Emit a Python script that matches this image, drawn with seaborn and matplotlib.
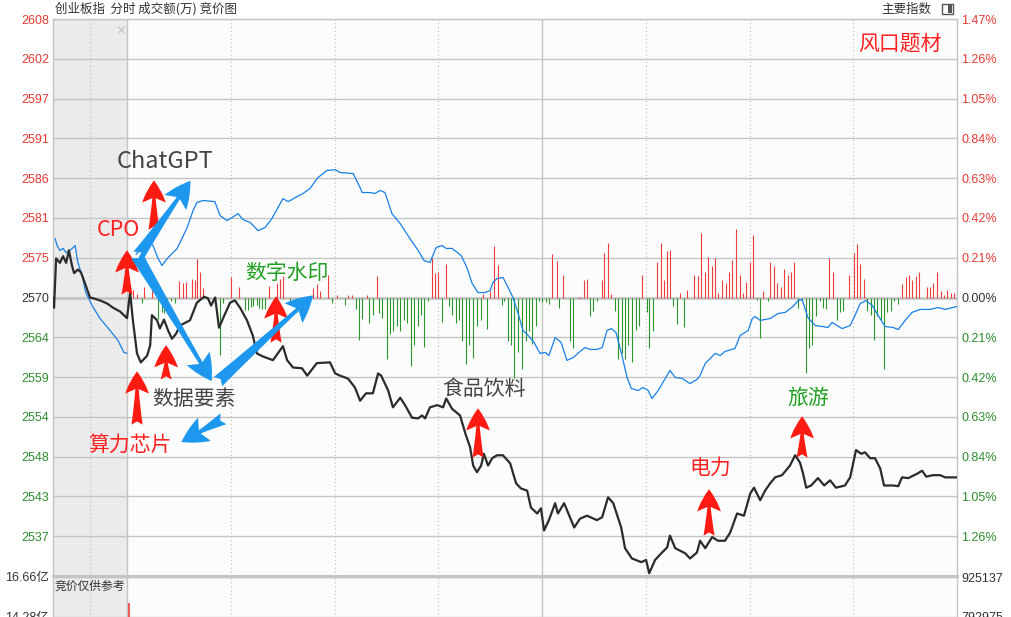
import numpy as np
import pandas as pd
import matplotlib
matplotlib.use('Agg')
import matplotlib.pyplot as plt
from matplotlib.patches import FancyArrowPatch, Rectangle
import seaborn as sns

BASE = 2570.0   # prev close, 0.00% line

# time axis: minutes after 9:30 (negative part = call auction), 120 = 11:30/13:00, 240 = 15:00
idx_t = [-21.4, -21.1, -20.5, -19.4, -18.5, -17.6, -16.8, -15.9, -15.3, -14.2, -13.3, -11.9, -10.7, -9.8,
         -7.8, -5.8, -4.0, -2.0, -0.9, 0.0, 0.9, 1.7, 2.9, 4.0, 5.8, 6.7, 7.2, 8.7, 9.5, 10.7, 11.9, 13.0,
         14.2, 15.3, 18.2, 20.2, 22.3, 23.4, 24.3, 25.5, 26.6, 27.8, 29.8, 31.2, 32.7, 34.7, 36.4, 37.6,
         39.3, 42.2, 45.1, 46.3, 48.0, 50.6, 52.1, 54.9, 58.7, 60.2, 61.6, 63.9, 65.9, 67.4, 69.1, 71.1,
         72.6, 73.5, 75.5, 76.9, 79.0, 80.4, 82.4, 84.2, 85.3, 86.2, 87.6, 89.7, 91.4, 92.3, 94.0, 96.3,
         97.8, 99.2, 100.1, 101.2, 102.4, 103.2, 104.4, 105.6, 107.0, 108.7, 110.8, 112.5, 113.9, 115.7,
         116.8, 118.6, 119.7, 120.6, 122.0, 123.8, 124.6, 126.4, 129.3, 131.0, 133.0, 135.9, 137.4, 139.1,
         140.6, 142.9, 144.0, 146.0, 148.7, 150.1, 151.0, 152.7, 154.7, 156.2, 157.0, 158.5, 161.4, 162.8,
         164.8, 165.7, 167.2, 169.2, 170.9, 172.9, 174.4, 176.4, 178.4, 180.2, 181.3, 183.1, 184.5, 186.0,
         187.4, 189.4, 191.7, 193.2, 194.6, 195.5, 196.4, 197.8, 199.8, 201.6, 203.3, 205.0, 207.6, 209.1,
         210.8, 212.3, 213.4, 214.9, 216.3, 217.8, 218.9, 221.5, 223.0, 224.1, 225.9, 228.5, 229.9, 231.1,
         233.1, 235.1, 236.6, 240.0]
idx_price = [2569.9, 2568.6, 2575.3, 2574.7, 2575.6, 2574.7, 2576.4, 2574.3, 2573.3, 2573.8, 2573.4, 2571.6,
             2570.0, 2569.9, 2569.6, 2569.2, 2568.6, 2568.1, 2567.6, 2567.2, 2570.7, 2566.9, 2562.4, 2561.2,
             2562.1, 2563.5, 2567.6, 2566.9, 2565.8, 2567.0, 2565.5, 2564.4, 2565.1, 2566.2, 2566.9, 2569.3,
             2570.1, 2569.9, 2568.9, 2570.0, 2565.9, 2567.2, 2569.3, 2569.6, 2568.6, 2566.9, 2564.8, 2562.4,
             2562.0, 2561.5, 2563.4, 2561.5, 2560.5, 2560.4, 2559.4, 2561.1, 2561.2, 2559.7, 2559.4, 2559.0,
             2557.8, 2556.0, 2557.0, 2557.0, 2559.7, 2559.4, 2557.4, 2555.1, 2556.4, 2555.4, 2553.7, 2553.6,
             2554.0, 2553.6, 2555.1, 2555.4, 2555.1, 2556.3, 2554.9, 2554.0, 2551.6, 2549.7, 2547.2, 2546.3,
             2547.2, 2548.8, 2547.2, 2548.2, 2548.6, 2548.6, 2547.5, 2544.8, 2544.1, 2543.8, 2541.5, 2540.7,
             2541.4, 2538.4, 2539.8, 2542.1, 2540.7, 2542.1, 2538.8, 2540.0, 2540.4, 2539.8, 2540.2, 2542.9,
             2542.1, 2538.8, 2536.0, 2534.6, 2534.1, 2534.4, 2532.6, 2534.4, 2535.4, 2536.1, 2537.7, 2536.0,
             2535.3, 2534.6, 2535.4, 2537.0, 2536.0, 2537.5, 2537.0, 2537.0, 2538.1, 2540.7, 2540.4, 2543.4,
             2544.2, 2542.5, 2543.8, 2544.8, 2545.6, 2545.9, 2547.2, 2548.6, 2547.6, 2546.1, 2544.2, 2544.5,
             2545.5, 2544.5, 2545.2, 2544.2, 2544.5, 2545.6, 2549.3, 2548.8, 2549.0, 2548.2, 2548.2, 2546.8,
             2544.5, 2544.5, 2544.4, 2545.6, 2545.5, 2546.1, 2546.5, 2545.7, 2545.9, 2545.9, 2545.6, 2545.6]

# blue line (leading index, % change)
lead_auc_t = [-20.8, -20.2, -19.4, -18.5, -17.6, -16.5, -15.0, -14.2, -13.0, -11.9, -10.1, -7.8, -4.9, -2.6, -0.9, 0.0]
lead_auc_pct = [0.311, 0.274, 0.248, 0.259, 0.237, 0.248, 0.274, 0.185, 0.116, 0.026, -0.042, -0.111, -0.174,
                -0.227, -0.290, -0.295]
lead_t = [2.6, 4.3, 6.1, 7.5, 9.0, 10.1, 11.9, 14.5, 17.4, 19.1, 20.2, 22.0, 25.4, 26.9, 28.9, 30.4, 32.1,
          33.5, 35.6, 37.9, 39.9, 41.9, 45.1, 46.6, 49.2, 50.9, 52.9, 55.2, 57.8, 60.2, 61.6, 65.4, 67.4,
          68.0, 70.3, 71.7, 73.2, 74.6, 76.6, 79.0, 81.8, 84.2, 85.9, 87.6, 89.4, 91.1, 92.3, 94.0, 96.6,
          98.3, 99.8, 101.5, 103.5, 105.0, 105.8, 107.0, 108.7, 110.2, 111.6, 113.1, 114.5, 116.0, 117.7,
          119.4, 120.9, 122.0, 123.8, 125.5, 127.2, 129.0, 130.7, 132.5, 133.9, 135.9, 137.4, 138.8, 140.0,
          141.4, 142.9, 144.6, 145.8, 147.8, 149.2, 150.7, 151.8, 153.6, 155.3, 157.0, 158.5, 160.5, 162.8,
          164.8, 165.7, 167.2, 170.1, 171.5, 172.9, 175.8, 177.3, 179.6, 180.8, 181.6, 183.1, 186.0, 188.3,
          190.3, 192.6, 194.1, 195.2, 196.9, 199.0, 201.0, 202.7, 203.9, 205.3, 206.8, 209.1, 210.5, 212.0,
          213.7, 215.5, 217.2, 219.2, 221.5, 223.0, 225.0, 227.0, 229.3, 232.2, 234.5, 236.6, 240.0]
lead_pct = [0.227, 0.259, 0.311, 0.274, 0.206, 0.169, 0.211, 0.259, 0.369, 0.459, 0.501, 0.512, 0.506, 0.433,
            0.406, 0.422, 0.443, 0.412, 0.396, 0.353, 0.369, 0.417, 0.522, 0.506, 0.533, 0.549, 0.575, 0.633,
            0.670, 0.675, 0.660, 0.654, 0.580, 0.554, 0.554, 0.549, 0.565, 0.554, 0.443, 0.390, 0.311, 0.248,
            0.195, 0.185, 0.264, 0.274, 0.259, 0.259, 0.222, 0.158, 0.074, 0.026, 0.026, 0.037, 0.079, 0.100,
            0.106, 0.053, 0.000, -0.084, -0.174, -0.200, -0.237, -0.295, -0.290, -0.306, -0.211, -0.237,
            -0.332, -0.317, -0.290, -0.264, -0.274, -0.274, -0.264, -0.174, -0.164, -0.185, -0.290, -0.422,
            -0.480, -0.491, -0.475, -0.491, -0.533, -0.491, -0.438, -0.385, -0.422, -0.427, -0.454, -0.433,
            -0.412, -0.348, -0.295, -0.306, -0.285, -0.269, -0.200, -0.174, -0.111, -0.100, -0.121, -0.111,
            -0.084, -0.079, -0.047, -0.016, -0.011, -0.106, -0.148, -0.153, -0.158, -0.132, -0.148, -0.164,
            -0.148, -0.095, -0.032, -0.016, -0.042, -0.095, -0.153, -0.158, -0.169, -0.121, -0.079, -0.063,
            -0.063, -0.053, -0.063, -0.047]

# red / green bars around the 0.00% line (in %)
red_t = [1.8, 3.0, 4.9, 7.1, 15.1, 16.1, 17.1, 18.7, 19.7, 20.2, 21.1, 22.1, 30.0, 32.5, 41.2, 43.4, 44.2,
         45.0, 53.9, 54.9, 55.8, 58.2, 60.7, 63.9, 65.1, 69.4, 72.3, 88.2, 89.1, 89.9, 92.3, 103.0, 105.0,
         106.1, 107.3, 122.9, 124.4, 126.1, 130.4, 131.0, 132.2, 133.0, 137.4, 137.9, 139.1, 140.0, 148.9,
         153.3, 154.4, 155.3, 156.2, 157.0, 159.9, 162.0, 164.0, 165.1, 166.0, 167.2, 168.0, 169.2, 170.0,
         170.9, 172.1, 173.2, 174.1, 175.0, 176.1, 177.3, 178.1, 179.0, 180.2, 181.0, 183.9, 186.0, 187.1,
         188.0, 189.1, 190.0, 191.2, 192.0, 192.9, 203.0, 204.2, 208.8, 210.3, 211.1, 212.0, 213.1, 224.1,
         225.3, 226.2, 227.0, 228.2, 229.0, 231.4, 232.2, 233.1, 234.3, 235.4, 236.3, 237.1, 238.3, 239.2,
         240.0]
red_v = [0.041, 0.020, 0.053, 0.041, 0.088, 0.075, 0.084, 0.097, 0.093, 0.202, 0.137, 0.049, 0.107, 0.058,
         0.062, 0.074, 0.100, 0.111, 0.049, 0.072, 0.032, 0.120, 0.011, 0.011, 0.011, 0.011, 0.111, 0.206,
         0.127, 0.137, 0.179, 0.021, 0.032, 0.274, 0.174, 0.227, 0.195, 0.121, 0.005, 0.005, 0.090, 0.100,
         0.090, 0.237, 0.290, 0.016, 0.121, 0.190, 0.290, 0.090, 0.243, 0.253, 0.026, 0.037, 0.121, 0.116,
         0.343, 0.137, 0.216, 0.164, 0.211, 0.026, 0.090, 0.074, 0.132, 0.200, 0.359, 0.121, 0.026, 0.084,
         0.185, 0.332, 0.032, 0.185, 0.164, 0.079, 0.058, 0.148, 0.121, 0.137, 0.190, 0.206, 0.132, 0.121,
         0.237, 0.285, 0.179, 0.100, 0.069, 0.106, 0.121, 0.095, 0.111, 0.132, 0.058, 0.058, 0.074, 0.132,
         0.032, 0.011, 0.037, 0.026, 0.026, 0.106]
green_t = [4.3, 9.1, 10.0, 10.7, 11.5, 12.6, 13.9, 26.9, 27.7, 34.1, 35.1, 35.8, 36.5, 37.5, 38.3, 39.0, 39.9,
           47.1, 49.2, 50.9, 59.2, 63.0, 66.2, 67.1, 68.0, 70.0, 71.1, 72.9, 73.7, 75.2, 76.1, 76.9, 78.1,
           79.0, 80.1, 81.0, 82.1, 83.0, 84.2, 85.0, 85.9, 87.0, 91.1, 93.1, 94.0, 95.1, 96.0, 96.9, 98.0,
           98.9, 100.1, 101.2, 102.4, 104.1, 108.5, 109.0, 110.2, 111.1, 111.9, 113.1, 114.2, 115.4, 116.3,
           117.1, 118.3, 119.2, 120.0, 121.2, 122.0, 124.9, 128.1, 129.0, 133.9, 134.8, 135.9, 141.1, 142.0,
           143.2, 144.0, 144.9, 146.0, 147.2, 148.1, 150.4, 151.0, 152.1, 157.9, 159.1, 161.1, 182.2, 183.1,
           185.4, 194.1, 195.2, 196.4, 197.2, 198.1, 199.3, 200.4, 201.3, 202.2, 205.3, 206.2, 207.1, 214.0,
           215.2, 216.0, 216.9, 218.1, 218.9, 219.8, 220.9, 221.8, 223.0]
green_v = [0.030, 0.114, 0.074, 0.083, 0.056, 0.021, 0.030, 0.302, 0.030, 0.065, 0.065, 0.051, 0.047, 0.039,
           0.056, 0.063, 0.063, 0.021, 0.074, 0.058, 0.030, 0.042, 0.063, 0.222, 0.116, 0.132, 0.095, 0.084,
           0.106, 0.327, 0.195, 0.179, 0.153, 0.179, 0.121, 0.132, 0.364, 0.253, 0.153, 0.090, 0.259, 0.016,
           0.127, 0.047, 0.095, 0.137, 0.121, 0.232, 0.353, 0.253, 0.317, 0.148, 0.121, 0.164, 0.037, 0.021,
           0.232, 0.253, 0.427, 0.290, 0.380, 0.232, 0.179, 0.248, 0.153, 0.016, 0.026, 0.026, 0.032, 0.058,
           0.227, 0.269, 0.100, 0.069, 0.021, 0.069, 0.327, 0.295, 0.327, 0.253, 0.338, 0.174, 0.153, 0.079,
           0.264, 0.179, 0.047, 0.142, 0.158, 0.011, 0.216, 0.021, 0.058, 0.016, 0.401, 0.269, 0.253, 0.100,
           0.021, 0.058, 0.063, 0.121, 0.074, 0.069, 0.069, 0.090, 0.222, 0.100, 0.121, 0.375, 0.079, 0.069,
           0.021, 0.032]

left_labels = ['2608', '2602', '2597', '2591', '2586', '2581', '2575', '2570', '2564', '2559', '2554', '2548',
               '2543', '2537', '']
right_labels = ['1.47%', '1.26%', '1.05%', '0.84%', '0.63%', '0.42%', '0.21%', '0.00%', '0.21%', '0.42%',
                '0.63%', '0.84%', '1.05%', '1.26%', '']
vol_left = ['16.66亿', '14.28亿']
vol_right = ['925137', '792975']
vol_ticks = [16.66, 14.28]
auction_vol_t = [0.6]
auction_vol = [15.1]

# theme labels: text, position (minute, %), colour, size
themes = [('ChatGPT', 11.0, 0.718, '#444444', 17), ('CPO', -2.6, 0.354, '#ff2020', 15.5),
          ('数字水印', 46.3, 0.132, '#22a022', 15), ('数据要素', 19.4, -0.538, '#444444', 15),
          ('算力芯片', 0.9, -0.776, '#ff2020', 15), ('食品饮料', 103.2, -0.485, '#444444', 15),
          ('电力', 168.6, -0.897, '#ff2020', 15), ('旅游', 196.9, -0.528, '#22a022', 15),
          ('风口题材', 223.6, 1.340, '#ff2020', 15)]
# red arrows (minute, from %, to %)
red_arrows = [(7.8, 0.343, 0.633), (0.0, 0.0, 0.264), (2.9, -0.686, -0.375), (11.3, -0.448, -0.237),
              (43.1, -0.253, 0.021), (101.5, -0.860, -0.570), (168.3, -1.272, -0.997), (195.2, -0.860, -0.612)]
# blue arrows (from minute, from %, to minute, to %)
blue_arrows = [(2.9, 0.211, 18.8, 0.628), (2.3, 0.237, 24.9, -0.454), (25.7, -0.454, 54.4, 0.021),
               (28.6, -0.633, 15.0, -0.770)]

sns.set_theme(style='white')
plt.rcParams['font.family'] = ['Noto Sans CJK SC', 'DejaVu Sans']

W, H = 1012, 617
fig = plt.figure(figsize=(W / 100, H / 100), dpi=100)
fig.patch.set_facecolor('white')
ax = fig.add_axes([53 / W, (H - 576) / H, 904 / W, 557 / H])
axv = fig.add_axes([53 / W, (H - 735) / H, 904 / W, 158 / H])

XMIN, XMAX = -21.4, 240
RED_T, GREEN_T, DARK = '#e53935', '#2e8b2e', '#333333'
GRID = '#c4c4c4'
ticks = np.round(np.arange(-7, 8) * 0.21, 2)[::-1]

for a in (ax, axv):
    a.set_facecolor('#fcfcfc')
    a.set_xlim(XMIN, XMAX)
    a.axvspan(XMIN, 0, color='#ebebeb', zorder=0, lw=0)
    for v in (0, 120):
        a.axvline(v, color=GRID, lw=1.0, zorder=1)
    for v in (-10.7, 30, 60, 90, 150, 180, 210):
        a.axvline(v, color='#bdbdbd', lw=0.8, ls=(0, (1, 2.5)), zorder=1)
    a.set_xticks([])
    for s in a.spines.values():
        s.set_color(GRID)
        s.set_linewidth(1.0)

# main panel
ax.set_ylim(-1.47, 1.47)
for t in ticks:
    ax.axhline(t, color=GRID, lw=2.0 if t == 0 else 1.0, zorder=1)
ax.spines['bottom'].set_linewidth(2.2)

ax.vlines(red_t, 0, red_v, color='#f03c3c', lw=0.8, zorder=2)
ax.vlines(green_t, 0, [-v for v in green_v], color='#2a962a', lw=0.8, zorder=2)

df_idx = pd.DataFrame({'t': idx_t, 'pct': [(p / BASE - 1) * 100 for p in idx_price]})
sns.lineplot(data=df_idx, x='t', y='pct', ax=ax, color='#2b2b2b', lw=1.6, estimator=None, sort=False, zorder=4)
sns.lineplot(x=lead_auc_t, y=lead_auc_pct, ax=ax, color='#1680e6', lw=0.9, estimator=None, sort=False, zorder=3)
sns.lineplot(x=lead_t, y=lead_pct, ax=ax, color='#1680e6', lw=0.9, estimator=None, sort=False, zorder=3)
ax.set_xlabel('')
ax.set_ylabel('')
ax.set_xlim(XMIN, XMAX)

tick_font = ['Liberation Sans', 'Noto Sans CJK SC']
ax.set_yticks(ticks)
ax.set_yticklabels(left_labels, fontsize=9, family=tick_font)
ax.tick_params(axis='y', length=0, pad=3)
for lab, t in zip(ax.get_yticklabels(), ticks):
    lab.set_color(RED_T if t > 0 else (GREEN_T if t < 0 else DARK))

ax2 = ax.twinx()
ax2.set_ylim(-1.47, 1.47)
ax2.set_yticks(ticks)
ax2.set_yticklabels(right_labels, fontsize=9, family=tick_font)
ax2.tick_params(axis='y', length=0, pad=3)
for s in ax2.spines.values():
    s.set_visible(False)
for lab, t in zip(ax2.get_yticklabels(), ticks):
    lab.set_color(RED_T if t > 0 else (GREEN_T if t < 0 else DARK))

# volume panel (cut off by the bottom edge, as in the screenshot)
step = vol_ticks[0] - vol_ticks[1]
axv.set_ylim(vol_ticks[0] - 4 * step, vol_ticks[0])
for t in vol_ticks:
    axv.axhline(t, color=GRID, lw=1.0, zorder=1)
axv.vlines(auction_vol_t, 0, auction_vol, color='#f03c3c', lw=1.2, zorder=2)
axv.set_yticks(vol_ticks)
axv.set_yticklabels(vol_left, fontsize=9, family=tick_font, color=DARK)
axv.tick_params(axis='y', length=0, pad=3)
axv2 = axv.twinx()
axv2.set_ylim(axv.get_ylim())
axv2.set_yticks(vol_ticks)
axv2.set_yticklabels(vol_right, fontsize=9, family=tick_font, color=DARK)
axv2.tick_params(axis='y', length=0, pad=3)
for s in axv2.spines.values():
    s.set_visible(False)
axv.text(0.002, 0.985, '竞价仅供参考', transform=axv.transAxes, fontsize=8.5, color=DARK, va='top', ha='left')

# annotations
for a_t, y0, y1 in red_arrows:
    ax.add_patch(FancyArrowPatch((a_t, y0), (a_t, y1),
                                 arrowstyle='fancy,head_width=0.85,head_length=0.8,tail_width=0.4',
                                 mutation_scale=20, color='#ff1a12', lw=0, zorder=6))
for x0, y0, x1, y1 in blue_arrows:
    ax.add_patch(FancyArrowPatch((x0, y0), (x1, y1),
                                 arrowstyle='fancy,head_width=0.95,head_length=0.95,tail_width=0.45',
                                 mutation_scale=20, color='#1e98ee', lw=0, zorder=6))
for txt, x, y, c, fs in themes:
    ax.text(x, y, txt, color=c, fontsize=fs, ha='center', va='center', zorder=7)

ax.text(-1.8, 1.41, '×', color='#b0b0b0', fontsize=8, ha='center', va='center', zorder=5)

# header
fig.text(55 / W, 1 - 9 / H, '创业板指  分时 成交额(万) 竞价图', fontsize=9, color=DARK, va='center', ha='left')
fig.text(931 / W, 1 - 9 / H, '主要指数', fontsize=9, color=DARK, va='center', ha='right')
fig.patches.append(Rectangle((942 / W, 1 - 14 / H), 11 / W, 10 / H, transform=fig.transFigure,
                             facecolor='white', edgecolor='#555555', lw=1))
fig.patches.append(Rectangle((948 / W, 1 - 13 / H), 4 / W, 8 / H, transform=fig.transFigure,
                             facecolor='#555555', lw=0))

fig.savefig('out.png', dpi=100, facecolor='white')
